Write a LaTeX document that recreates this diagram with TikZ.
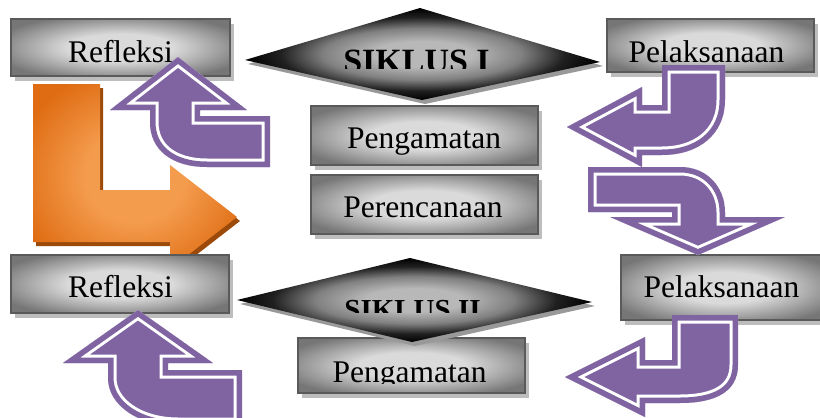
\documentclass[tikz,border=0pt]{standalone}
\usepackage{fontspec}
\setmainfont{Liberation Serif}
\usetikzlibrary{shadows}
\definecolor{apurple}{HTML}{8064A2}
\definecolor{boxlight}{HTML}{DADADA}
\definecolor{boxdark}{HTML}{767676}
\definecolor{boxborder}{HTML}{5A5A5A}
\definecolor{boxshadow}{HTML}{BDBDBD}
\definecolor{dialight}{HTML}{B8B8B8}
\definecolor{diamid}{HTML}{808080}
\definecolor{diadark}{HTML}{202020}
\definecolor{diashadow}{HTML}{999999}
\definecolor{orlight}{HTML}{F49C4E}
\definecolor{ordark}{HTML}{DF6C12}
\definecolor{orshadow}{HTML}{9C4A0A}
\pgfdeclareradialshading{boxshade}{\pgfpoint{0bp}{0bp}}{color(0bp)=(boxlight); color(12bp)=(boxlight); color(30bp)=(boxdark); color(50bp)=(boxdark)}
\pgfdeclareradialshading{diashade}{\pgfpoint{0bp}{0bp}}{color(0bp)=(dialight); color(7bp)=(dialight); color(14bp)=(diamid); color(20bp)=(diadark); color(25bp)=(black); color(50bp)=(black)}
\pgfdeclareradialshading{orshade}{\pgfpoint{0bp}{0bp}}{color(0bp)=(orlight); color(12bp)=(orlight); color(30bp)=(ordark); color(50bp)=(ordark)}
\newcommand\purpleshape[1]{%
  \begin{scope}
    \clip #1;
    \fill[apurple] #1;
    \draw[white, line width=17pt] #1;
    \draw[apurple, line width=11pt] #1;
  \end{scope}}
\begin{document}
\begin{tikzpicture}[x=1pt, y=-1pt,
  lbl/.style={font=\fontsize{31.5}{36}\selectfont, inner sep=0pt, anchor=base},
  siklbl/.style={inner sep=0pt, anchor=base},
  box/.style={draw=boxborder, line width=1.2pt, shading=boxshade, inner sep=0pt,
    drop shadow={shadow xshift=4pt, shadow yshift=-5pt, fill=boxshadow, opacity=1}}]
\useasboundingbox (0,0) rectangle (820,418);
\fill[white] (0,0) rectangle (820,418);

% orange L arrow
\fill[orshadow, shift={(3,4)}] (33,84) -- (100,84) -- (100,190) -- (170,190) -- (170,165) -- (237,217) -- (170,269) -- (170,242) -- (33,242) -- cycle;
\path[shading=orshade] (33,84) -- (100,84) -- (100,190) -- (170,190) -- (170,165) -- (237,217) -- (170,269) -- (170,242) -- (33,242) -- cycle;

% boxes
\node[box, minimum width=219pt, minimum height=57pt] (refl1) at (120.5,47.5) {};
\node[lbl] (refl1t) at (120.5,62) {Refleksi};
\node[box, minimum width=207pt, minimum height=53pt] (pel1) at (710.5,45.5) {};
\node[lbl] (pel1t) at (706.5,62) {Pelaksanaan};
\node[box, minimum width=227pt, minimum height=59pt] (peng1) at (424.5,135.5) {};
\node[lbl] (peng1t) at (424,148) {Pengamatan};
\node[box, minimum width=227pt, minimum height=59pt] (peren) at (424.5,204.5) {};
\node[lbl] (perent) at (423,217) {Perencanaan};
\node[box, minimum width=218pt, minimum height=58pt] (refl2) at (120,284) {};
\node[lbl] (refl2t) at (120.5,297) {Refleksi};
\node[box, minimum width=207pt, minimum height=65pt] (pel2) at (724.5,287.5) {};
\node[lbl] (pel2t) at (721.5,297) {Pelaksanaan};
\node[box, minimum width=227pt, minimum height=55pt] (peng2) at (411.5,365.5) {};
\begin{scope}
  \clip (290,330) rectangle (540,383);
  \node[lbl] (peng2t) at (409.5,382) {Pengamatan};
\end{scope}

% diamonds
\fill[diashadow, shift={(3,4)}] (245,60) -- (420,8) -- (600,62) -- (422,100) -- cycle;
\path[shading=diashade] (245,60) -- (420,8) -- (600,62) -- (422,100) -- cycle;
\begin{scope}
  \clip (300,0) rectangle (540,68);
  \node[siklbl, font=\fontsize{34}{40}\selectfont\bfseries] (sik1) at (416.5,72.5) {SIKLUS I};
\end{scope}
\fill[diashadow, shift={(3,4)}] (237,300) -- (410,258) -- (592,302) -- (412,342) -- cycle;
\path[shading=diashade] (237,300) -- (410,258) -- (592,302) -- (412,342) -- cycle;
\begin{scope}
  \clip (300,250) rectangle (540,312);
  \node[siklbl, font=\fontsize{29}{34}\selectfont\bfseries] (sik2) at (412.5,319) {SIKLUS II};
\end{scope}

% purple arrows
\purpleshape{(178,57) -- (247,110) -- (200,110) -- (200,116) -- (270,116) -- (270,167) -- (207,167) .. controls (172,167) and (150,150) .. (150,122) -- (150,110) -- (110,110) -- cycle}
\purpleshape{(567,127) -- (642,87) -- (642,105) -- (662,105) -- (662,65) -- (725,65) -- (725,100) .. controls (725,135) and (698,155) .. (662,155) -- (642,155) -- (642,167) -- cycle}
\purpleshape{(588,167) -- (680,167) .. controls (708,167) and (725,188) .. (725,212) -- (725,217) -- (785,217) -- (698,255) -- (610,217) -- (672,217) -- (672,212) -- (588,212) -- cycle}
\purpleshape{(138,310) -- (213,363) -- (168,363) -- (168,370) -- (242,370) -- (242,426) -- (178,426) .. controls (138,426) and (108,405) .. (108,378) -- (108,363) -- (63,363) -- cycle}
\purpleshape{(565,377) -- (645,337) -- (645,360) -- (672,360) -- (672,315) -- (738,315) -- (738,365) .. controls (738,392) and (715,403) .. (680,403) -- (645,403) -- (645,417) -- cycle}
\end{tikzpicture}
\end{document}
